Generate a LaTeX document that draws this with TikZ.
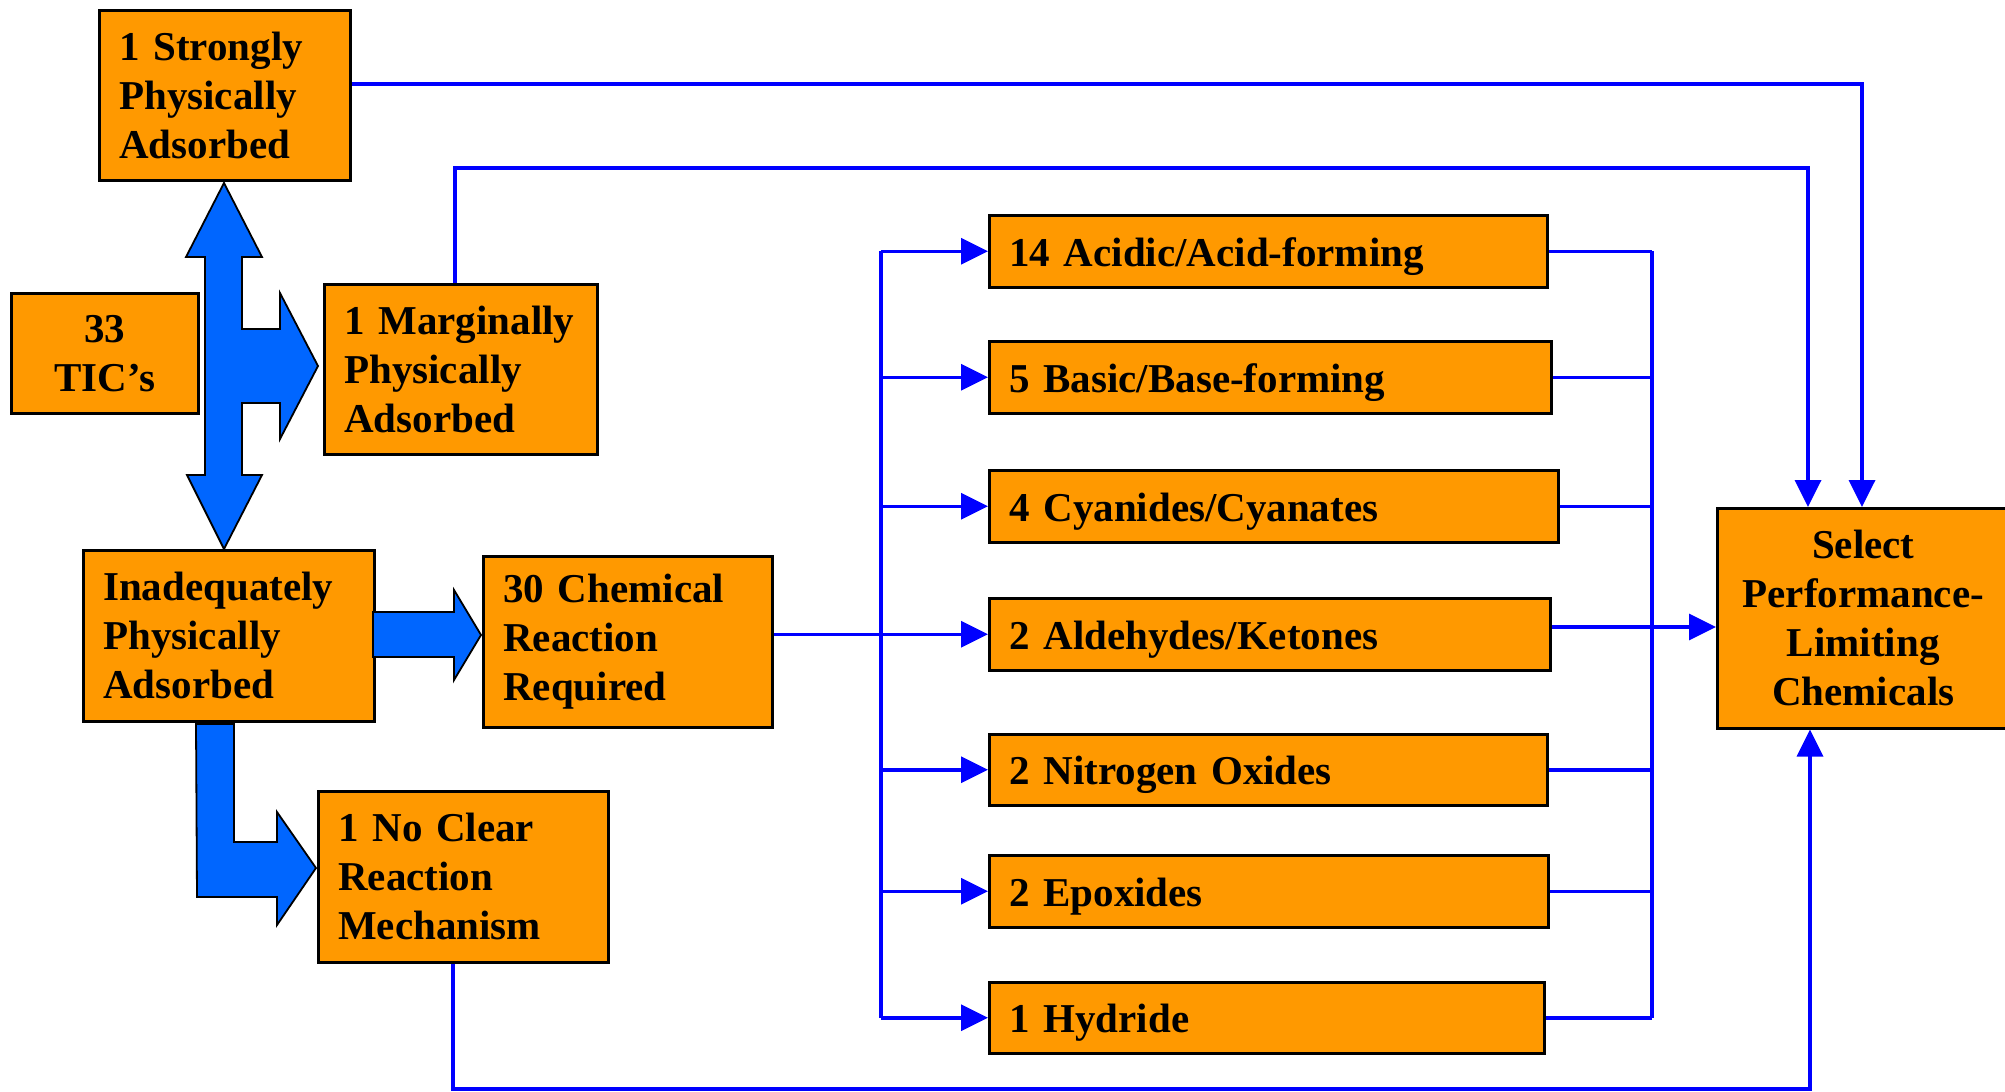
\documentclass[tikz,border=0pt]{standalone}
\usepackage{fontspec}
\setmainfont{Liberation Serif}
\usetikzlibrary{arrows.meta}
\definecolor{boxorange}{RGB}{255,153,0}
\definecolor{arrowblue}{RGB}{0,102,255}
\definecolor{lineblue}{RGB}{0,0,255}
\begin{document}
\begin{tikzpicture}[x=1pt,y=-1pt,
  box/.style={draw=black, line width=2.5pt, fill=boxorange, inner xsep=20pt, inner ysep=0pt,
    align=left, anchor=north west, font=\bfseries\fontsize{41}{49}\selectfont},
  midbox/.style={box, text height=36pt, text depth=6pt},
  conn/.style={draw=lineblue, line width=3.5pt},
  arr/.style={conn, -{Triangle[length=27pt,width=26pt]}},
  blockarrow/.style={fill=arrowblue, draw=black, line width=1.8pt, line join=miter}]

\useasboundingbox (0,0) rectangle (2005,1092);

% left boxes
\node[box, text width=211pt, minimum height=170pt] (strong) at (98,9) {1~Strongly\\Physically\\Adsorbed};
\node[box, text width=147pt, minimum height=120pt, align=center] (tic) at (10,292) {33\\TIC’s};
\node[box, text width=233pt, minimum height=170pt] (marg) at (323,283) {1~Marginally\\Physically\\Adsorbed};
\node[box, text width=251pt, minimum height=171pt] (inad) at (82,549) {Inadequately\\Physically\\Adsorbed};
\node[box, text width=249pt, minimum height=171pt] (chem) at (482,555) {30~Chemical\\Reaction\\Required};
\node[box, text width=250pt, minimum height=171pt] (noclr) at (317,790) {1~No~Clear\\Reaction\\Mechanism};

% middle boxes
\node[midbox, text width=518pt, minimum height=72pt] (acid)  at (988,214) {14 Acidic/Acid-forming};
\node[midbox, text width=522pt, minimum height=72pt] (basic) at (988,340) {5 Basic/Base-forming};
\node[midbox, text width=529pt, minimum height=72pt] (cyan)  at (988,469) {4 Cyanides/Cyanates};
\node[midbox, text width=521pt, minimum height=72pt] (ald)   at (988,597) {2 Aldehydes/Ketones};
\node[midbox, text width=518pt, minimum height=71pt] (nitro) at (988,733) {2 Nitrogen Oxides};
\node[midbox, text width=519pt, minimum height=72pt] (epox)  at (988,854) {2 Epoxides};
\node[midbox, text width=515pt, minimum height=71pt] (hyd)   at (988,981) {1 Hydride};

% right box
\node[box, inner xsep=10pt, text width=272pt, minimum height=220pt, align=center] (sel) at (1716,507)
  {Select\\Performance-\\Limiting\\Chemicals};

% block arrows
\path[blockarrow] (224,183) -- (262,257) -- (242,257) -- (242,329) -- (280,329) -- (280,293)
  -- (318,366) -- (280,439) -- (280,403) -- (242,403) -- (242,475) -- (262,475)
  -- (224,549) -- (187,475) -- (205,475) -- (205,257) -- (186,257) -- cycle;
\path[blockarrow] (373,612) -- (454,612) -- (454,590) -- (481,635) -- (454,680) -- (454,657)
  -- (373,657) -- cycle;
\path[blockarrow] (196,724) -- (234,724) -- (234,842) -- (277,842) -- (277,812) -- (316,868)
  -- (277,925) -- (277,897) -- (197,897) -- cycle;

% helper coordinates
\coordinate (c1) at (1862,84);
\coordinate (m1) at (455,168);
\coordinate (m2) at (1808,168);
\coordinate (n1) at (453,1089);
\coordinate (n2) at (1810,1089);
\coordinate (lbus) at (881,0);
\coordinate (rbus) at (1652,0);
\coordinate (aldy) at (0,627);

% top connectors
\draw[arr] (strong.east |- c1) -- (c1) -- (c1 |- sel.north);
\draw[arr] (m1 |- marg.north) -- (m1) -- (m2) -- (m2 |- sel.north);
% bottom connector
\draw[arr] (n1 |- noclr.south) -- (n1) -- (n2) -- (n2 |- sel.south);

% left bus
\draw[conn] (acid.west -| lbus) -- (hyd.west -| lbus);
\draw[arr] (chem.east |- ald.west) -- (ald.west);
\draw[arr] (acid.west -| lbus) -- (acid.west);
\draw[arr] (basic.west -| lbus) -- (basic.west);
\draw[arr] (cyan.west -| lbus) -- (cyan.west);
\draw[arr] (nitro.west -| lbus) -- (nitro.west);
\draw[arr] (epox.west -| lbus) -- (epox.west);
\draw[arr] (hyd.west -| lbus) -- (hyd.west);

% right bus
\draw[conn] (acid.east -| rbus) -- (hyd.east -| rbus);
\draw[conn] (acid.east) -- (acid.east -| rbus);
\draw[conn] (basic.east) -- (basic.east -| rbus);
\draw[conn] (cyan.east) -- (cyan.east -| rbus);
\draw[conn] (nitro.east) -- (nitro.east -| rbus);
\draw[conn] (epox.east) -- (epox.east -| rbus);
\draw[conn] (hyd.east) -- (hyd.east -| rbus);
\draw[arr] (ald.east |- aldy) -- (sel.west |- aldy);
\end{tikzpicture}
\end{document}
